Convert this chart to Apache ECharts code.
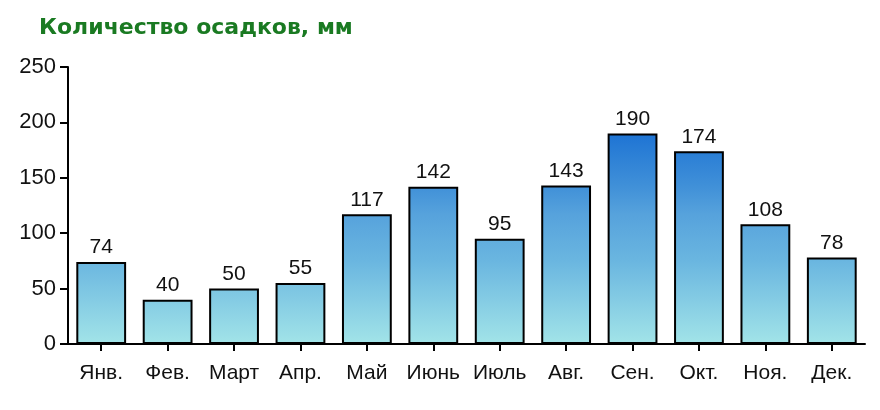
<!DOCTYPE html>
<html>
<head>
<meta charset="utf-8">
<script src="https://cdn.jsdelivr.net/npm/echarts@6/dist/echarts.min.js"></script>
<style>
  html, body { margin: 0; padding: 0; background: #fff; }
  #chart { width: 880px; height: 410px; }
</style>
</head>
<body>
<div id="chart"></div>
<script>
// данные
const months = ['Янв.', 'Фев.', 'Март', 'Апр.', 'Май', 'Июнь', 'Июль', 'Авг.', 'Сен.', 'Окт.', 'Ноя.', 'Дек.']
const rainfall = [74, 40, 50, 55, 117, 142, 95, 143, 190, 174, 108, 78]
const yTicks = [0, 50, 100, 150, 200, 250]

const chart = echarts.init(document.getElementById('chart'))

const gridTop = 67
const gridBottom = 66

const option = {
  backgroundColor: '#ffffff',
  animation: false,
  title: {
    text: 'Количество осадков, мм',
    left: 34,
    top: 12,
    textStyle: {
      color: '#1a7a22',
      fontFamily: 'DejaVu Sans',
      fontWeight: 'bold',
      fontSize: 22,
    },
  },
  grid: {
    left: 68,
    right: 15,
    top: gridTop,
    bottom: gridBottom,
  },
  xAxis: {
    type: 'category',
    data: months,
    axisTick: {
      show: true,
      alignWithLabel: true,
      interval: 0,
      length: 7,
      lineStyle: { color: '#000', width: 2 },
    },
    axisLine: {
      lineStyle: { color: '#000', width: 2 },
    },
    axisLabel: {
      interval: 0,
      hideOverlap: false,
      color: '#111',
      fontFamily: 'Liberation Sans',
      fontSize: 21,
      margin: 19,
    },
  },
  yAxis: {
    type: 'value',
    min: yTicks[0],
    max: yTicks[yTicks.length - 1],
    interval: 50,
    axisLine: {
      show: true,
      lineStyle: { color: '#000', width: 2 },
    },
    axisTick: {
      show: true,
      length: 8,
      lineStyle: { color: '#000', width: 2 },
    },
    axisLabel: {
      color: '#111',
      fontFamily: 'Liberation Sans',
      fontSize: 22,
      margin: 12,
    },
    splitLine: { show: false },
  },
  series: [
    {
      type: 'bar',
      data: rainfall,
      barCategoryGap: '25%',
      itemStyle: {
        borderColor: '#000',
        borderWidth: 2,
        color: new echarts.graphic.LinearGradient(0, 410 - gridBottom, 0, gridTop, [
          { offset: 0, color: '#a2e4e8' },
          { offset: 0.3, color: '#6ab6e0' },
          { offset: 0.47, color: '#56a2dc' },
          { offset: 0.57, color: '#4090d8' },
          { offset: 0.76, color: '#1e74d4' },
          { offset: 1, color: '#0c5cc8' },
        ], true),
      },
      label: {
        show: true,
        position: 'top',
        distance: 4,
        color: '#111',
        fontFamily: 'Liberation Sans',
        fontSize: 21,
      },
    },
  ],
}

chart.setOption(option)
</script>
</body>
</html>
